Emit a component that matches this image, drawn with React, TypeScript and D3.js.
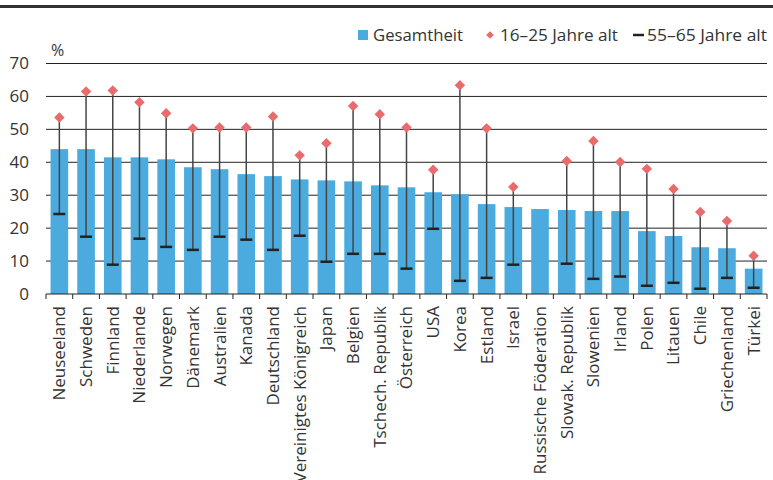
import React from "react";
import * as d3 from "d3";

const categories = ["Neuseeland","Schweden","Finnland","Niederlande","Norwegen","Dänemark","Australien","Kanada","Deutschland","Vereinigtes Königreich","Japan","Belgien","Tschech. Republik","Österreich","USA","Korea","Estland","Israel","Russische Föderation","Slowak. Republik","Slowenien","Irland","Polen","Litauen","Chile","Griechenland","Türkei"];
const total = [44.0,44.0,41.5,41.5,40.9,38.5,37.9,36.4,35.8,34.8,34.5,34.2,33.0,32.4,30.9,30.3,27.3,26.4,25.8,25.5,25.2,25.2,19.1,17.6,14.2,13.9,7.7];
const young: (number | null)[] = [53.6,61.5,61.8,58.2,54.9,50.3,50.6,50.6,53.9,42.1,45.8,57.1,54.6,50.6,37.7,63.4,50.3,32.5,null,40.4,46.5,40.1,38.0,31.9,24.9,22.2,11.6];
const old: (number | null)[] = [24.3,17.4,8.9,16.8,14.3,13.4,17.4,16.5,13.4,17.7,9.8,12.2,12.2,7.7,19.8,4.0,4.9,8.9,null,9.2,4.6,5.3,2.5,3.4,1.6,4.9,1.9];
const yTicks = [0,10,20,30,40,50,60,70];
const legendLabels = ["Gesamtheit", "16–25 Jahre alt", "55–65 Jahre alt"];

const W = 773, H = 480;
const left = 46, right = 767, top = 63.5, bottom = 294;
const BAR = "#4BABDF";
const RED = "#E96B6C";
const TXT = "#333333";
const FONT = "'Open Sans', 'Noto Sans', sans-serif";
const LFONT = "'Open Sans', 'Noto Sans', sans-serif";

export default function App() {
  const x = d3.scaleBand<string>().domain(categories).range([left, right]).paddingInner(0.34).paddingOuter(0.17);
  const y = d3.scaleLinear().domain([0, 70]).range([bottom, top]);
  const bw = x.bandwidth();
  const boundaries = d3.range(categories.length + 1).map(i => left + i * ((right - left) / categories.length));
  const diamond = d3.symbol().type(d3.symbolSquare).size(55)();
  return (
    <svg width={W} height={H} style={{ display: "block", position: "absolute", left: 0, top: 0 }}>
      <rect x={0} y={0} width={W} height={H} fill="#fff" />
      <rect x={0} y={5} width={W} height={3} fill="#333" />
      {yTicks.map(t => (
        <g key={t}>
          {t > 0 && <line x1={left} x2={right} y1={y(t)} y2={y(t)} stroke="#222" strokeWidth={1} />}
          <text x={29} y={y(t)} dy="0.35em" textAnchor="end" fontFamily={FONT} fontSize={17} fill={TXT}>{t}</text>
        </g>
      ))}
      <text x={51} y={50} dy="0.35em" fontFamily={FONT} fontSize={16} fill={TXT}>%</text>
      {categories.map((c, i) => (
        <rect key={c} x={x(c)} y={y(total[i])} width={bw} height={bottom - y(total[i])} fill={BAR} />
      ))}
      <line x1={left} x2={right} y1={bottom} y2={bottom} stroke="#222" strokeWidth={1} />
      {boundaries.map((b, i) => (
        <line key={i} x1={b} x2={b} y1={bottom} y2={bottom + 5} stroke="#222" strokeWidth={1} />
      ))}
      {categories.map((c, i) => {
        const cx = (x(c) as number) + bw / 2;
        const yv = young[i], ov = old[i];
        if (yv == null || ov == null) return null;
        return (
          <g key={c}>
            <line x1={cx} x2={cx} y1={y(yv)} y2={y(ov)} stroke="#444" strokeWidth={1.5} />
            <line x1={cx - 6} x2={cx + 6} y1={y(ov)} y2={y(ov)} stroke="#222" strokeWidth={2.5} />
            <path d={diamond as string} transform={`translate(${cx},${y(yv)}) rotate(45)`} fill={RED} />
          </g>
        );
      })}
      {categories.map(c => {
        const cx = (x(c) as number) + bw / 2;
        return (
          <text key={c} transform={`translate(${cx},${bottom + 12}) rotate(-90)`} textAnchor="end" dy="0.35em" fontFamily={FONT} fontSize={17} fill={TXT}>{c}</text>
        );
      })}
      <g fontFamily={LFONT} fontSize={17} fill={TXT}>
        <rect x={358} y={30} width={10} height={10} fill={BAR} />
        <text x={373} y={35} dy="0.35em" textLength={90} lengthAdjust="spacingAndGlyphs">{legendLabels[0]}</text>
        <path d={d3.symbol().type(d3.symbolSquare).size(30)() as string} transform="translate(490,35) rotate(45)" fill={RED} />
        <text x={500} y={35} dy="0.35em" textLength={118} lengthAdjust="spacingAndGlyphs">{legendLabels[1]}</text>
        <line x1={633} x2={644} y1={35} y2={35} stroke="#222" strokeWidth={2.5} />
        <text x={647} y={35} dy="0.35em" textLength={120} lengthAdjust="spacingAndGlyphs">{legendLabels[2]}</text>
      </g>
    </svg>
  );
}
